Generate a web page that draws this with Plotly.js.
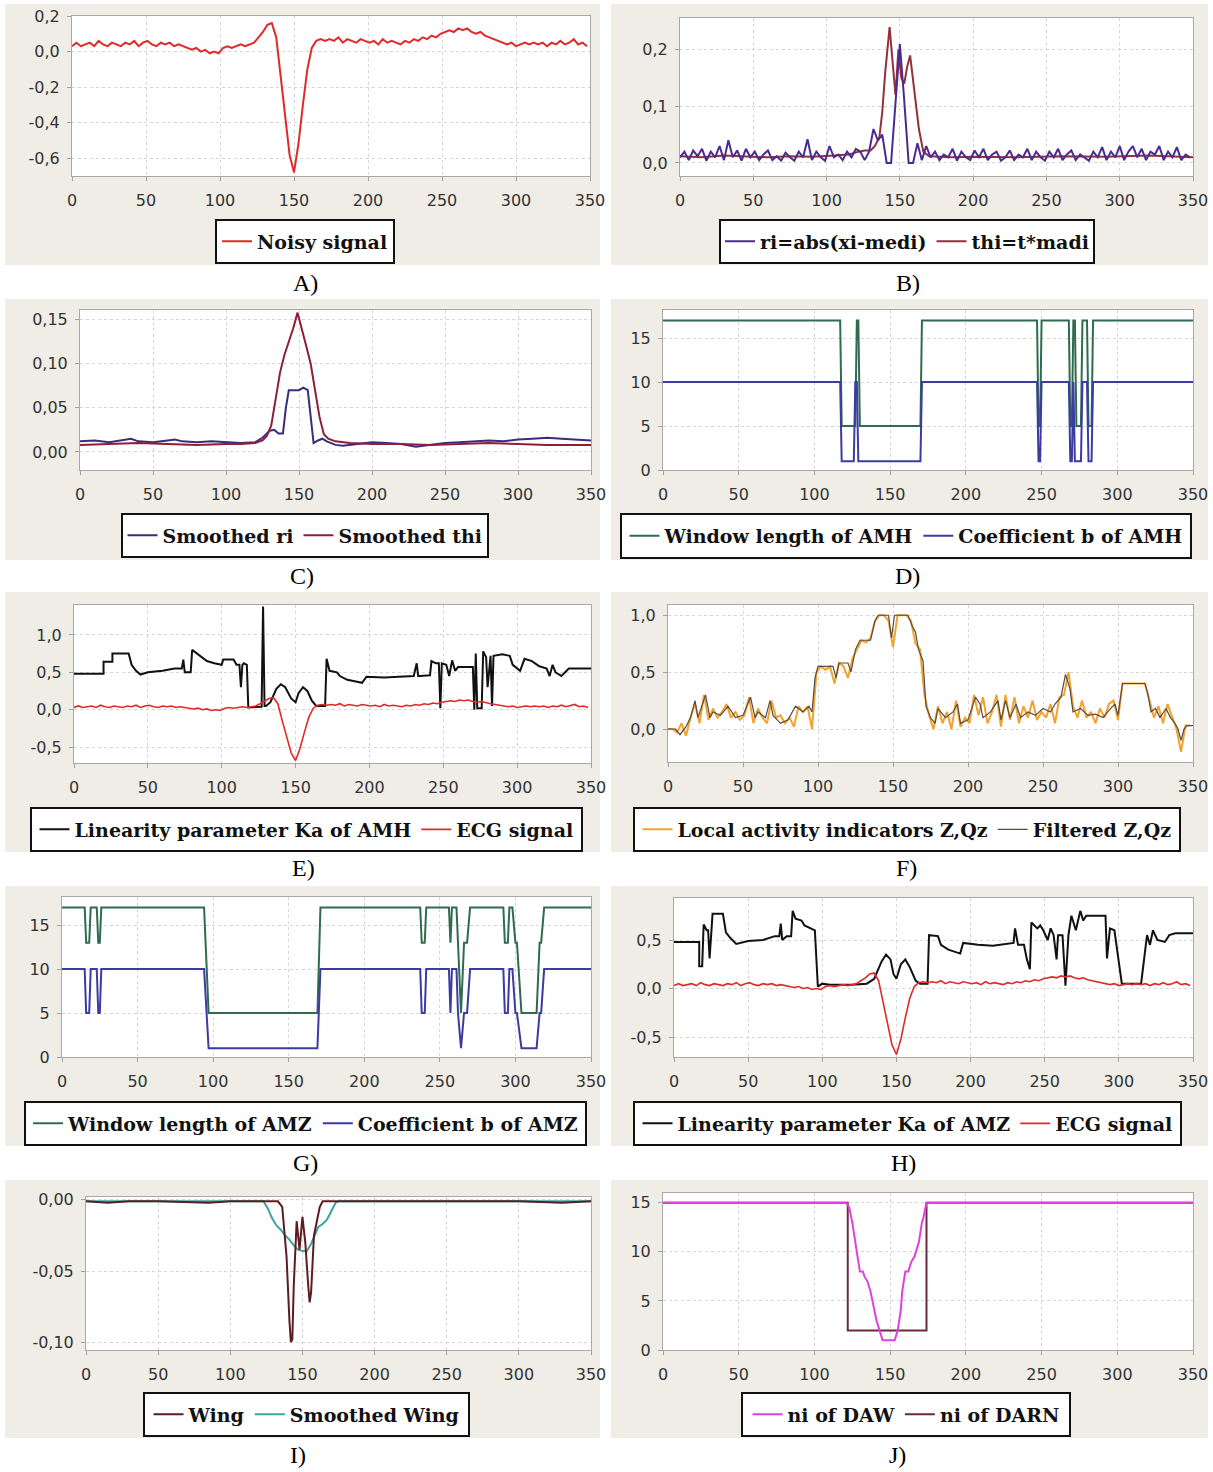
<!DOCTYPE html>
<html><head><meta charset="utf-8">
<script src="https://cdn.plot.ly/plotly-3.0.1.min.js"></script>
<style>html,body{margin:0;padding:0;background:#fff;}#chart{width:1213px;height:1472px;}</style>
</head><body><div id="chart"></div>
<script>
// ---------------- DATA ----------------
const xTicks = [0,50,100,150,200,250,300,350];
const xTickText = ['0','50','100','150','200','250','300','350'];

const yTicksA = [0.2,0,-0.2,-0.4,-0.6];   const yTextA = ['0,2','0,0','-0,2','-0,4','-0,6'];
const yTicksB = [0,0.1,0.2];             const yTextB = ['0,0','0,1','0,2'];
const yTicksC = [0,0.05,0.1,0.15];       const yTextC = ['0,00','0,05','0,10','0,15'];
const yTicksD = [0,5,10,15];             const yTextD = ['0','5','10','15'];
const yTicksE = [-0.5,0,0.5,1];          const yTextE = ['-0,5','0,0','0,5','1,0'];
const yTicksF = [0,0.5,1];               const yTextF = ['0,0','0,5','1,0'];
const yTicksH = [-0.5,0,0.5];            const yTextH = ['-0,5','0,0','0,5'];
const yTicksI = [-0.1,-0.05,0];          const yTextI = ['-0,10','-0,05','0,00'];

// sampled every 3 samples, starting at 0
const sampleStep = 3;
const ecgSignal = [
 0.03,0.05,0.03,0.04,0.05,0.03,0.06,0.04,0.03,0.05,
 0.04,0.03,0.05,0.04,0.06,0.03,0.05,0.06,0.04,0.03,
 0.05,0.04,0.05,0.03,0.04,0.03,0.02,0.01,0.02,0.00,
 0.01,-0.01,0.00,-0.01,0.02,0.03,0.02,0.03,0.04,0.03,
 0.04,0.05,0.08,0.11,0.15,0.16,0.08,-0.15,-0.38,-0.58,
 -0.68,-0.52,-0.30,-0.10,0.02,0.06,0.07,0.06,0.07,0.06,
 0.08,0.05,0.07,0.06,0.05,0.07,0.06,0.05,0.06,0.04,
 0.07,0.05,0.06,0.05,0.04,0.06,0.05,0.07,0.06,0.08,
 0.07,0.09,0.08,0.10,0.11,0.12,0.11,0.13,0.12,0.13,
 0.11,0.10,0.11,0.09,0.08,0.07,0.06,0.05,0.04,0.05,
 0.03,0.04,0.05,0.04,0.05,0.04,0.05,0.03,0.05,0.04,
 0.06,0.04,0.05,0.07,0.04,0.05,0.03];

const riValues = [
 0.010,0.020,0.005,0.022,0.012,0.025,0.004,0.020,0.010,0.030,
 0.005,0.040,0.010,0.022,0.004,0.025,0.010,0.020,0.005,0.015,
 0.022,0.005,0.012,0.004,0.018,0.010,0.004,0.020,0.010,0.042,
 0.005,0.020,0.010,0.004,0.030,0.010,0.015,0.005,0.020,0.010,
 0.025,0.020,0.005,0.020,0.060,0.040,0.050,0.000,0.000,0.110,
 0.210,0.110,0.000,0.000,0.035,0.005,0.030,0.010,0.020,0.005,
 0.015,0.010,0.025,0.004,0.020,0.010,0.005,0.022,0.010,0.025,
 0.005,0.015,0.020,0.004,0.010,0.022,0.005,0.015,0.010,0.025,
 0.005,0.020,0.010,0.004,0.020,0.010,0.025,0.005,0.015,0.022,
 0.005,0.015,0.010,0.004,0.020,0.010,0.028,0.005,0.020,0.010,
 0.030,0.005,0.020,0.030,0.010,0.025,0.005,0.020,0.015,0.030,
 0.005,0.020,0.010,0.028,0.005,0.015,0.010];

const thiX = [0,15,30,45,60,75,90,105,115,122,126,130,133,136,138,140,143,145,147,149,151,153,155,157,160,163,166,170,185,200,230,260,290,320,350];
const thiY = [0.012,0.010,0.013,0.011,0.010,0.012,0.011,0.013,0.015,0.02,0.022,0.022,0.03,0.045,0.09,0.16,0.24,0.18,0.12,0.20,0.15,0.14,0.17,0.19,0.13,0.06,0.02,0.012,0.010,0.011,0.010,0.012,0.011,0.013,0.010];

const smRiX = [0,10,20,30,35,40,50,60,65,70,80,90,100,110,120,125,130,133,136,139,141,143,150,153,156,158,160,163,166,169,175,180,190,200,210,220,230,240,250,260,270,280,290,300,310,320,330,340,350];
const smRiY = [0.012,0.013,0.011,0.014,0.015,0.012,0.011,0.013,0.014,0.012,0.011,0.012,0.011,0.010,0.011,0.016,0.024,0.025,0.021,0.021,0.05,0.070,0.070,0.073,0.07,0.04,0.01,0.013,0.015,0.012,0.008,0.007,0.009,0.011,0.010,0.009,0.006,0.008,0.010,0.011,0.012,0.013,0.012,0.014,0.015,0.016,0.015,0.014,0.013];
const smThiX = [0,20,40,60,80,100,110,120,125,128,131,134,137,140,143,146,149,152,155,158,161,164,167,170,175,185,200,220,240,260,280,300,320,340,350];
const smThiY = [0.008,0.009,0.010,0.009,0.008,0.009,0.009,0.010,0.013,0.018,0.03,0.06,0.09,0.11,0.125,0.14,0.158,0.14,0.12,0.10,0.07,0.04,0.02,0.015,0.012,0.010,0.009,0.009,0.008,0.009,0.010,0.009,0.008,0.008,0.008];

const winAMH = [[0,17],[117,17],[118,5],[127,5],[128,17],[129,17],[130,5],[170,5],[171,17],[247,17],[248,5],[249,5],[250,17],[268,17],[269,5],[270,5],[271,17],[272,17],[273,5],[276,5],[277,17],[280,17],[281,5],[283,5],[284,17],[350,17]];
const bAMH = [[0,10],[117,10],[118,1],[126,1],[127,10],[128,10],[129,1],[170,1],[171,10],[247,10],[248,1],[249,1],[250,10],[268,10],[269,1],[270,1],[271,10],[272,1],[276,1],[277,10],[280,10],[281,1],[283,1],[284,10],[350,10]];

const kaAMH = [[0,0.48],[20,0.48],[20,0.64],[26,0.64],[26,0.75],[37,0.75],[39,0.6],[42,0.52],[45,0.47],[50,0.5],[60,0.52],[68,0.55],[73,0.55],[74,0.67],[75,0.5],[79,0.5],[80,0.8],[85,0.72],[90,0.65],[95,0.62],[100,0.6],[101,0.67],[108,0.67],[110,0.6],[112,0.6],[113,0.3],[114,0.6],[115,0.62],[117,0.6],[118,0.03],[127,0.04],[128,1.38],[129,0.05],[130,0.05],[133,0.1],[137,0.28],[140,0.34],[143,0.3],[147,0.15],[150,0.1],[152,0.22],[155,0.3],[158,0.25],[161,0.12],[164,0.05],[170,0.05],[171,0.68],[173,0.52],[178,0.5],[180,0.45],[185,0.4],[190,0.38],[195,0.36],[198,0.44],[210,0.43],[220,0.44],[230,0.45],[232,0.62],[233,0.45],[234,0.45],[241,0.46],[242,0.65],[245,0.62],[247,0.62],[248,0.02],[249,0.62],[252,0.6],[254,0.45],[256,0.66],[258,0.52],[260,0.57],[270,0.57],[271,0.0],[272,0.75],[273,0.02],[276,0.02],[277,0.78],[279,0.7],[280,0.3],[282,0.72],[283,0.05],[284,0.72],[290,0.74],[295,0.72],[297,0.6],[302,0.52],[305,0.68],[310,0.65],[315,0.58],[320,0.55],[322,0.45],[324,0.6],[326,0.5],[330,0.45],[335,0.55],[350,0.55]];

const activityZ = [
 0.00,0.00,-0.03,0.05,-0.06,0.10,0.22,0.05,0.30,0.08,
 0.18,0.10,0.15,0.22,0.10,0.15,0.08,0.12,0.28,0.05,
 0.18,0.10,0.05,0.25,0.10,0.12,0.05,0.10,0.02,0.20,
 0.15,0.20,0.00,0.50,0.55,0.52,0.55,0.40,0.58,0.55,
 0.45,0.62,0.70,0.78,0.76,0.80,0.95,1.00,1.00,0.95,
 0.72,1.00,1.00,1.00,0.95,0.75,0.70,0.30,0.12,0.00,
 0.20,0.05,0.15,0.00,0.25,0.02,0.10,0.05,0.30,0.12,
 0.28,0.05,0.15,0.30,0.02,0.30,0.08,0.28,0.05,0.20,
 0.10,0.25,0.08,0.15,0.10,0.22,0.05,0.28,0.30,0.50,
 0.20,0.10,0.25,0.10,0.15,0.05,0.18,0.10,0.22,0.25,
 0.08,0.40,0.40,0.40,0.40,0.40,0.40,0.25,0.10,0.20,
 0.05,0.22,0.10,0.00,-0.20,0.03,0.03];
const filteredZ = [[0,0.0],[5,0.0],[8,-0.05],[12,0.02],[15,0.1],[18,0.25],[20,0.1],[22,0.18],[25,0.3],[28,0.1],[30,0.15],[35,0.12],[40,0.2],[45,0.1],[50,0.12],[55,0.28],[58,0.1],[60,0.15],[65,0.1],[68,0.25],[70,0.12],[75,0.05],[80,0.08],[85,0.2],[90,0.15],[94,0.2],[96,0.15],[98,0.45],[100,0.55],[110,0.55],[112,0.45],[114,0.58],[120,0.58],[122,0.5],[125,0.7],[128,0.78],[135,0.78],[138,0.95],[140,1.0],[147,1.0],[149,0.8],[151,1.0],[160,1.0],[163,0.9],[165,0.85],[167,0.7],[170,0.6],[172,0.2],[175,0.1],[178,0.05],[180,0.18],[185,0.1],[190,0.15],[193,0.22],[195,0.05],[200,0.08],[205,0.28],[208,0.22],[210,0.1],[215,0.15],[220,0.25],[222,0.08],[225,0.25],[228,0.1],[232,0.22],[235,0.1],[240,0.15],[245,0.12],[250,0.18],[255,0.15],[258,0.22],[262,0.28],[265,0.48],[268,0.35],[270,0.15],[275,0.18],[280,0.12],[285,0.13],[290,0.1],[295,0.18],[298,0.22],[300,0.12],[303,0.4],[318,0.4],[320,0.3],[322,0.15],[325,0.18],[328,0.1],[332,0.18],[335,0.1],[338,0.05],[340,0.0],[342,-0.1],[344,0.0],[346,0.03],[350,0.03]];

const winAMZ = [[0,17],[15,17],[16,13],[18,13],[19,17],[23,17],[24,13],[25,13],[26,17],[94,17],[97,5],[169,5],[171,17],[237,17],[238,13],[240,13],[241,17],[256,17],[257,13],[258,17],[261,17],[262,13],[264,5],[266,13],[268,13],[270,17],[292,17],[293,13],[295,13],[296,17],[298,17],[300,13],[301,13],[304,5],[314,5],[316,13],[317,13],[319,17],[350,17]];
const bAMZ = [[0,10],[15,10],[16,5],[18,5],[19,10],[23,10],[24,5],[25,5],[26,10],[94,10],[97,1],[169,1],[171,10],[237,10],[238,5],[240,5],[241,10],[256,10],[257,5],[258,10],[261,10],[262,5],[264,1],[266,5],[268,5],[270,10],[292,10],[293,5],[295,5],[296,10],[298,10],[300,5],[301,5],[304,1],[314,1],[316,5],[317,5],[319,10],[350,10]];

const kaAMZ = [[0,0.48],[17,0.48],[17,0.23],[19,0.23],[20,0.66],[22,0.6],[23,0.6],[24,0.31],[26,0.77],[33,0.77],[35,0.58],[38,0.52],[42,0.46],[50,0.49],[60,0.5],[68,0.54],[71,0.54],[72,0.67],[73,0.5],[76,0.54],[79,0.54],[80,0.8],[82,0.72],[86,0.7],[88,0.65],[92,0.62],[95,0.6],[97,0.02],[100,0.05],[105,0.04],[120,0.04],[130,0.05],[135,0.1],[140,0.28],[143,0.35],[146,0.3],[148,0.15],[150,0.1],[153,0.25],[156,0.3],[159,0.22],[163,0.08],[166,0.05],[171,0.05],[172,0.55],[178,0.54],[180,0.45],[185,0.4],[190,0.38],[193,0.36],[195,0.47],[205,0.45],[215,0.44],[228,0.47],[229,0.47],[230,0.62],[232,0.45],[236,0.45],[238,0.3],[240,0.2],[241,0.68],[245,0.62],[247,0.65],[249,0.6],[252,0.5],[254,0.62],[256,0.55],[258,0.3],[259,0.55],[262,0.55],[264,0.03],[266,0.55],[268,0.75],[271,0.6],[274,0.8],[276,0.7],[278,0.75],[291,0.75],[292,0.31],[294,0.62],[297,0.6],[302,0.05],[315,0.05],[319,0.55],[321,0.45],[323,0.6],[326,0.5],[331,0.48],[334,0.55],[338,0.57],[350,0.57]];

const wing = [[0,-0.001],[15,-0.002],[30,-0.001],[50,-0.001],[85,-0.002],[100,-0.001],[120,-0.001],[133,-0.001],[136,-0.005],[139,-0.04],[141,-0.085],[142,-0.1],[143,-0.098],[144,-0.06],[146,-0.015],[148,-0.035],[150,-0.012],[152,-0.03],[154,-0.06],[155,-0.072],[156,-0.065],[158,-0.025],[160,-0.015],[162,-0.005],[164,-0.001],[200,-0.001],[250,-0.001],[300,-0.001],[330,-0.002],[350,-0.001]];
const smoothedWing = [[0,-0.001],[50,-0.001],[100,-0.001],[123,-0.001],[126,-0.006],[129,-0.013],[132,-0.018],[135,-0.021],[138,-0.025],[141,-0.028],[144,-0.032],[147,-0.035],[150,-0.036],[153,-0.036],[156,-0.031],[159,-0.024],[161,-0.019],[164,-0.017],[167,-0.014],[170,-0.008],[173,-0.002],[175,-0.001],[250,-0.001],[350,-0.001]];

const niDAW = [[0,15],[121,15],[123,14.5],[125,13],[127,11],[129,9],[130,8],[132,8],[133,7.5],[135,7],[137,6],[139,4.5],[141,3],[143,2],[145,1],[153,1],[155,2],[157,4],[158,6],[160,8],[162,8],[164,9],[166,9.5],[167,10],[169,11],[171,13],[172,13.5],[174,15],[350,15]];
const niDARN = [[0,15],[122,15],[122,2],[174,2],[174,15],[350,15]];

// ---------------- LAYOUT HELPERS ----------------
const W = 1213, H = 1472;
const fx = px => px / W;
const fy = py => 1 - py / H;
const seqX = (vals, step) => vals.map((v, i) => i * step);
const px_ = pts => pts.map(p => p[0]);
const py_ = pts => pts.map(p => p[1]);

const panels = [
 {lab:'A)', plot:[72,16,590,176],   yr:[-0.7,0.2],      yt:yTicksA, ytx:yTextA, leg:[216,220,394,263],  bg:[5,4,600,265],     pos:[305,283]},
 {lab:'B)', plot:[680,18,1193,176], yr:[-0.023,0.256],  yt:yTicksB, ytx:yTextB, leg:[720,220,1094,263], bg:[611,4,1208,265],  pos:[908,283]},
 {lab:'C)', plot:[80,310,591,470],  yr:[-0.0205,0.161], yt:yTicksC, ytx:yTextC, leg:[122,514,488,557],  bg:[5,299,600,560],   pos:[302,576]},
 {lab:'D)', plot:[663,310,1193,470],yr:[0,18.2],        yt:yTicksD, ytx:yTextD, leg:[621,514,1191,558], bg:[611,299,1208,560],pos:[908,576]},
 {lab:'E)', plot:[74,605,591,763],  yr:[-0.713,1.4],    yt:yTicksE, ytx:yTextE, leg:[31,808,582,851],   bg:[5,592,600,852],   pos:[303,868]},
 {lab:'F)', plot:[668,605,1193,762],yr:[-0.29,1.09],    yt:yTicksF, ytx:yTextF, leg:[634,808,1180,851], bg:[611,592,1208,852],pos:[906,868]},
 {lab:'G)', plot:[62,897,591,1057], yr:[0,18.2],        yt:yTicksD, ytx:yTextD, leg:[25,1102,586,1145], bg:[5,886,600,1146],  pos:[305,1163]},
 {lab:'H)', plot:[674,898,1193,1057],yr:[-0.706,0.933], yt:yTicksH, ytx:yTextH, leg:[634,1102,1181,1145],bg:[611,886,1208,1146],pos:[903,1163]},
 {lab:'I)', plot:[86,1197,591,1350],yr:[-0.1055,0.002], yt:yTicksI, ytx:yTextI, leg:[144,1393,469,1436],bg:[5,1180,600,1438], pos:[298,1455]},
 {lab:'J)', plot:[663,1193,1193,1350],yr:[0,16],        yt:yTicksD, ytx:yTextD, leg:[742,1393,1070,1436],bg:[611,1180,1208,1438],pos:[897,1455]}
];

const C = {
 ecg:'#e02a2a', ri:'#4b2b8e', thi:'#94303a', smRi:'#3b2d7c', smThi:'#8e1f38',
 win:'#2f6b4e', b:'#3b3ba2', ka:'#111111', act:'#f2a22e', filt:'#5a4a40',
 wing:'#5c1c22', smWing:'#3aa3a3', daw:'#e040e0', darn:'#6a2a40'
};

const traces = [];
function addTrace(pi, x, y, name, color, extra) {
  const n = pi + 1, s = n === 1 ? '' : String(n);
  traces.push(Object.assign({
    type:'scatter', mode:'lines', x:x, y:y, name:name,
    xaxis:'x'+s, yaxis:'y'+s, legend:'legend'+s,
    line:{color:color, width:2}, hoverinfo:'skip'
  }, extra || {}));
}

addTrace(0, seqX(ecgSignal, sampleStep), ecgSignal, 'Noisy signal', C.ecg);
addTrace(1, thiX, thiY, 'thi=t*madi', C.thi, {legendrank:2});
addTrace(1, seqX(riValues, sampleStep), riValues, 'ri=abs(xi-medi)', C.ri, {legendrank:1});
addTrace(2, smRiX, smRiY, 'Smoothed ri', C.smRi);
addTrace(2, smThiX, smThiY, 'Smoothed thi', C.smThi);
addTrace(3, px_(winAMH), py_(winAMH), 'Window length of AMH', C.win);
addTrace(3, px_(bAMH), py_(bAMH), 'Coefficient b of AMH', C.b);
addTrace(4, px_(kaAMH), py_(kaAMH), 'Linearity parameter Ka of AMH', C.ka);
addTrace(4, seqX(ecgSignal, sampleStep), ecgSignal, 'ECG signal', C.ecg, {line:{color:C.ecg, width:1.6}});
addTrace(5, seqX(activityZ, sampleStep), activityZ, 'Local activity indicators Z,Qz', C.act);
addTrace(5, px_(filteredZ), py_(filteredZ), 'Filtered Z,Qz', C.filt, {line:{color:C.filt, width:1.2}});
addTrace(6, px_(winAMZ), py_(winAMZ), 'Window length of AMZ', C.win);
addTrace(6, px_(bAMZ), py_(bAMZ), 'Coefficient b of AMZ', C.b);
addTrace(7, px_(kaAMZ), py_(kaAMZ), 'Linearity parameter Ka of AMZ', C.ka);
addTrace(7, seqX(ecgSignal, sampleStep), ecgSignal, 'ECG signal', C.ecg, {line:{color:C.ecg, width:1.6}});
addTrace(8, px_(smoothedWing), py_(smoothedWing), 'Smoothed Wing', C.smWing, {legendrank:2});
addTrace(8, px_(wing), py_(wing), 'Wing', C.wing, {legendrank:1});
addTrace(9, px_(niDARN), py_(niDARN), 'ni of DARN', C.darn, {legendrank:2});
addTrace(9, px_(niDAW), py_(niDAW), 'ni of DAW', C.daw, {legendrank:1});

const tickFont = {family:'DejaVu Sans', size:16, color:'#333333'};
const legendFont = {family:'DejaVu Serif', size:19, color:'#111111', weight:'bold'};

const layout = {
  width:W, height:H, margin:{l:0,r:0,t:0,b:0}, paper_bgcolor:'#ffffff', plot_bgcolor:'#ffffff',
  showlegend:true, shapes:[], annotations:[]
};

// gray panels first, then white plot areas and legend boxes on top of them
panels.forEach(p => {
  layout.shapes.push({type:'rect', xref:'paper', yref:'paper', layer:'below',
    x0:fx(p.bg[0]), x1:fx(p.bg[2]), y0:fy(p.bg[3]), y1:fy(p.bg[1]),
    fillcolor:'#efede6', line:{width:0}});
});

panels.forEach((p, i) => {
  const n = i + 1, s = n === 1 ? '' : String(n);
  const common = {showline:true, mirror:true, linecolor:'#a9a9a9', linewidth:1,
    ticks:'outside', ticklen:4, tickcolor:'#a0a0a0', showgrid:true, gridcolor:'#d6d6d6',
    griddash:'dot', gridwidth:1, zeroline:false, tickfont:tickFont, fixedrange:true};
  layout['xaxis'+s] = Object.assign({}, common, {
    domain:[fx(p.plot[0]), fx(p.plot[2])], anchor:'y'+s, range:[0,350],
    tickmode:'array', tickvals:xTicks, ticktext:xTickText, ticklabelstandoff:6});
  layout['yaxis'+s] = Object.assign({}, common, {
    domain:[fy(p.plot[3]), fy(p.plot[1])], anchor:'x'+s, range:p.yr,
    tickmode:'array', tickvals:p.yt, ticktext:p.ytx, ticklabelstandoff:4});
  // white plot area
  layout.shapes.push({type:'rect', xref:'paper', yref:'paper', layer:'below',
    x0:fx(p.plot[0]), x1:fx(p.plot[2]), y0:fy(p.plot[3]), y1:fy(p.plot[1]),
    fillcolor:'#ffffff', line:{width:0}});
  // legend box
  layout.shapes.push({type:'rect', xref:'paper', yref:'paper', layer:'below',
    x0:fx(p.leg[0]), x1:fx(p.leg[2]), y0:fy(p.leg[3]), y1:fy(p.leg[1]),
    fillcolor:'#ffffff', line:{color:'#111111', width:2}});
  layout['legend'+s] = {x:fx((p.leg[0]+p.leg[2])/2), y:fy((p.leg[1]+p.leg[3])/2),
    xref:'paper', yref:'paper', xanchor:'center', yanchor:'middle', orientation:'h',
    bgcolor:'rgba(0,0,0,0)', borderwidth:0, font:legendFont, itemwidth:30, traceorder:'normal'};
  layout.annotations.push({xref:'paper', yref:'paper', x:fx(p.pos[0]), y:fy(p.pos[1]),
    xanchor:'center', yanchor:'middle', showarrow:false, text:p.lab,
    font:{family:'Liberation Serif', size:24, color:'#000000'}});
});

Plotly.newPlot('chart', traces, layout, {staticPlot:true, displayModeBar:false});
</script></body></html>
